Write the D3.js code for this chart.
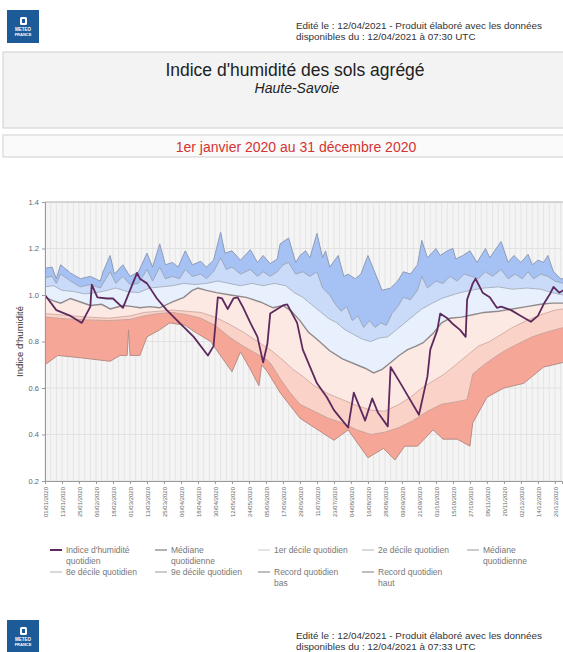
<!DOCTYPE html>
<html>
<head>
<meta charset="utf-8">
<script src="https://cdn.jsdelivr.net/npm/d3@7"></script>
<style>
  body { margin: 0; background: #fff; }
  text { font-family: "Liberation Sans", Arial, sans-serif; }
</style>
</head>
<body>
<div class="canvas"></div>
<script>
// series values as [jour de l'année, valeur]
const recordHaut = [[0,1.115],[5,1.12],[8,1.07],[11,1.13],[18,1.095],[25,1.07],[32,1.08],[39,1.06],[41,1.10],[46,1.17],[49,1.09],[55,1.13],[60,1.08],[66,1.10],[72,1.18],[76,1.12],[81,1.22],[85,1.13],[90,1.14],[94,1.12],[99,1.19],[104,1.13],[110,1.145],[114,1.12],[119,1.15],[124,1.27],[127,1.18],[132,1.19],[138,1.15],[145,1.195],[150,1.14],[154,1.17],[159,1.135],[164,1.155],[166,1.22],[172,1.245],[177,1.14],[180,1.17],[184,1.19],[187,1.16],[192,1.265],[196,1.16],[198,1.19],[201,1.12],[207,1.17],[211,1.08],[214,1.09],[219,1.07],[223,1.09],[228,1.17],[232,1.11],[238,1.02],[244,1.03],[249,1.06],[253,1.10],[258,1.09],[263,1.13],[266,1.235],[270,1.16],[276,1.20],[279,1.17],[284,1.19],[288,1.20],[290,1.155],[295,1.17],[300,1.19],[305,1.14],[311,1.20],[314,1.16],[322,1.23],[327,1.14],[331,1.17],[336,1.14],[341,1.175],[344,1.13],[348,1.15],[352,1.14],[355,1.17],[359,1.10],[364,1.07],[366,1.07]];
const neuvDecile = [[0,1.075],[5,1.08],[8,1.05],[11,1.09],[18,1.06],[25,1.035],[32,1.045],[39,1.03],[46,1.10],[50,1.05],[55,1.08],[60,1.045],[66,1.05],[72,1.11],[76,1.06],[81,1.12],[85,1.07],[90,1.08],[95,1.07],[99,1.11],[104,1.08],[110,1.09],[114,1.07],[119,1.10],[124,1.16],[128,1.11],[132,1.12],[138,1.09],[145,1.11],[150,1.08],[154,1.10],[159,1.08],[164,1.10],[168,1.13],[172,1.14],[177,1.09],[182,1.10],[187,1.08],[192,1.10],[196,1.03],[201,1.00],[205,0.96],[209,0.93],[213,0.95],[217,0.89],[221,0.91],[225,0.86],[229,0.89],[233,0.86],[237,0.88],[241,0.87],[245,0.92],[249,0.95],[253,0.99],[258,0.98],[263,1.02],[266,1.08],[270,1.03],[276,1.06],[281,1.05],[286,1.08],[291,1.06],[296,1.09],[301,1.08],[306,1.07],[311,1.10],[316,1.08],[322,1.11],[327,1.07],[332,1.09],[337,1.07],[341,1.10],[345,1.07],[350,1.09],[355,1.08],[360,1.06],[366,1.05]];
const huitDecile = [[0,1.035],[6,1.04],[12,1.02],[20,1.015],[28,1.005],[36,1.01],[44,1.02],[50,1.03],[58,1.015],[66,1.01],[74,1.03],[82,1.035],[90,1.04],[98,1.05],[106,1.045],[114,1.05],[122,1.06],[130,1.05],[138,1.04],[146,1.05],[154,1.04],[162,1.05],[170,1.04],[176,1.01],[182,0.99],[188,0.96],[194,0.93],[200,0.90],[206,0.88],[212,0.85],[218,0.83],[224,0.81],[230,0.80],[236,0.815],[242,0.82],[248,0.85],[254,0.88],[260,0.91],[266,0.94],[272,0.96],[280,0.985],[290,1.005],[300,1.02],[310,1.03],[320,1.035],[330,1.025],[340,1.03],[350,1.025],[358,1.01],[366,1.0]];
const mediane = [[0,0.99],[6,0.975],[11,0.965],[18,0.985],[25,0.97],[32,0.955],[40,0.96],[46,0.94],[55,0.955],[62,0.95],[67,0.945],[74,0.95],[81,0.945],[90,0.97],[98,0.99],[104,1.02],[108,1.03],[114,1.02],[121,1.01],[131,1.0],[142,0.99],[152,0.97],[161,0.945],[168,0.955],[174,0.93],[180,0.89],[186,0.84],[192,0.81],[201,0.76],[210,0.725],[220,0.70],[226,0.685],[232,0.665],[238,0.68],[244,0.71],[250,0.74],[256,0.765],[262,0.78],[267,0.795],[274,0.835],[280,0.88],[286,0.90],[294,0.905],[302,0.915],[310,0.925],[320,0.93],[330,0.94],[340,0.95],[350,0.96],[358,0.965],[366,0.965]];
const deuxDecile = [[0,0.92],[10,0.915],[20,0.91],[30,0.905],[45,0.90],[60,0.91],[70,0.925],[80,0.93],[90,0.935],[100,0.93],[110,0.925],[120,0.905],[130,0.875],[140,0.84],[150,0.80],[160,0.76],[168,0.72],[175,0.68],[182,0.65],[190,0.61],[200,0.575],[210,0.55],[220,0.525],[230,0.505],[240,0.50],[250,0.53],[258,0.56],[266,0.60],[274,0.63],[282,0.66],[290,0.70],[298,0.74],[306,0.78],[314,0.80],[322,0.83],[330,0.86],[340,0.89],[350,0.915],[360,0.935],[366,0.94]];
const premDecile = [[0,0.905],[10,0.90],[20,0.895],[30,0.893],[45,0.89],[60,0.895],[70,0.91],[80,0.92],[90,0.925],[100,0.915],[110,0.90],[120,0.87],[130,0.82],[140,0.78],[150,0.745],[157,0.72],[160,0.70],[166,0.64],[173,0.58],[180,0.53],[190,0.50],[200,0.47],[210,0.45],[220,0.42],[230,0.40],[240,0.41],[250,0.43],[260,0.46],[270,0.50],[280,0.53],[290,0.54],[298,0.55],[302,0.66],[310,0.70],[318,0.735],[326,0.765],[334,0.79],[344,0.82],[354,0.84],[366,0.86]];
const recordBas = [[0,0.70],[9,0.74],[25,0.73],[46,0.715],[53,0.74],[58,0.74],[59,0.85],[60,0.74],[67,0.74],[72,0.82],[81,0.85],[88,0.88],[99,0.87],[106,0.84],[117,0.80],[125,0.73],[132,0.67],[138,0.755],[145,0.68],[151,0.61],[153,0.70],[157,0.67],[166,0.58],[180,0.47],[204,0.375],[214,0.42],[228,0.30],[239,0.34],[247,0.29],[254,0.35],[263,0.35],[274,0.42],[281,0.38],[291,0.38],[300,0.35],[302,0.45],[312,0.56],[324,0.60],[338,0.62],[352,0.69],[366,0.71]];
const indice = [[0,1.00],[8,0.935],[18,0.91],[26,0.88],[32,0.95],[33,1.045],[37,0.99],[44,0.985],[48,0.985],[55,0.945],[65,1.095],[67,1.07],[72,1.05],[79,0.985],[86,0.935],[95,0.88],[105,0.82],[115,0.74],[119,0.78],[122,0.99],[125,0.985],[129,0.94],[133,0.985],[136,0.99],[140,0.945],[145,0.88],[150,0.82],[154,0.71],[157,0.79],[159,0.92],[164,0.94],[168,0.955],[171,0.96],[178,0.88],[182,0.765],[192,0.62],[199,0.56],[204,0.505],[208,0.475],[214,0.43],[218,0.58],[224,0.49],[226,0.46],[231,0.555],[235,0.495],[242,0.435],[244,0.69],[251,0.62],[264,0.485],[270,0.65],[272,0.765],[277,0.85],[279,0.92],[284,0.90],[288,0.875],[293,0.85],[297,0.82],[298,0.98],[302,1.05],[304,1.07],[309,1.01],[314,0.99],[319,0.945],[322,0.95],[329,0.935],[336,0.91],[343,0.885],[348,0.91],[352,0.96],[357,1.01],[359,1.035],[363,1.01],[366,1.02]];

const yTicks = [0.2, 0.4, 0.6, 0.8, 1.0, 1.2, 1.4];
const xTickLabels = ['01/01/2020','13/01/2020','25/01/2020','06/02/2020','18/02/2020','01/03/2020','13/03/2020','25/03/2020','06/04/2020','18/04/2020','30/04/2020','12/05/2020','24/05/2020','05/06/2020','17/06/2020','29/06/2020','11/07/2020','23/07/2020','04/08/2020','16/08/2020','28/08/2020','09/09/2020','21/09/2020','03/10/2020','15/10/2020','27/10/2020','08/11/2020','20/11/2020','02/12/2020','14/12/2020','26/12/2020'];

const legendItems = [
  { lines: ["Indice d'humidité", 'quotidien'], color: '#5e2a5e', width: 2 },
  { lines: ['Médiane', 'quotidienne'], color: '#999', width: 1.5 },
  { lines: ['1er décile quotidien'], color: '#ddd', width: 1.5 },
  { lines: ['2e décile quotidien'], color: '#ccc', width: 1.5 },
  { lines: ['Médiane', 'quotidienne'], color: '#bbb', width: 1.5 },
  { lines: ['8e décile quotidien'], color: '#ccc', width: 1.5 },
  { lines: ['9e décile quotidien'], color: '#bbb', width: 1.5 },
  { lines: ['Record quotidien', 'bas'], color: '#aaa', width: 1.5 },
  { lines: ['Record quotidien', 'haut'], color: '#aaa', width: 1.5 }
];

const W = 563, H = 652;
const plot = { left: 45, right: 562, top: 202, bottom: 481 };

const svg = d3.select('.canvas')
  .append('svg')
  .attr('width', W)
  .attr('height', H);

svg.append('rect').attr('width', W).attr('height', H).attr('fill', '#fff');

// header / footer
const logo = (yy) => {
  const g = svg.append('g').attr('transform', `translate(7, ${yy})`);
  g.append('rect').attr('width', 32).attr('height', 33).attr('fill', '#1d5a98');
  g.append('rect').attr('x', 13).attr('y', 7).attr('width', 7).attr('height', 8).attr('fill', '#fff').attr('rx', 1.5);
  g.append('rect').attr('x', 15).attr('y', 9).attr('width', 3).attr('height', 4).attr('fill', '#1d5a98');
  g.append('text').attr('x', 16).attr('y', 21).attr('text-anchor', 'middle')
    .attr('font-size', 4.5).attr('font-weight', 'bold').attr('fill', '#fff').text('METEO');
  g.append('text').attr('x', 16).attr('y', 26).attr('text-anchor', 'middle')
    .attr('font-size', 4).attr('font-weight', 'bold').attr('fill', '#fff').text('FRANCE');
};
const edition = (yy, heure) => {
  svg.append('text').attr('x', 296).attr('y', yy).attr('font-size', 9.9).attr('fill', '#333')
    .text('Edité le : 12/04/2021 - Produit élaboré avec les données');
  svg.append('text').attr('x', 296).attr('y', yy + 11).attr('font-size', 9.9).attr('fill', '#333')
    .text(`disponibles du : 12/04/2021 à ${heure} UTC`);
};
logo(10);
edition(29, '07:30');
logo(620);
edition(639, '07:33');

// title boxes
svg.append('rect').attr('x', 3).attr('y', 52).attr('width', 562).attr('height', 76)
  .attr('fill', '#f3f3f3').attr('stroke', '#d0d0d0');
svg.append('rect').attr('x', 3).attr('y', 135).attr('width', 562).attr('height', 22)
  .attr('fill', '#fafafa').attr('stroke', '#cfcfcf');
svg.append('text').attr('x', 295).attr('y', 76).attr('text-anchor', 'middle')
  .attr('font-size', 17.5).attr('fill', '#222').text("Indice d'humidité des sols agrégé");
svg.append('text').attr('x', 297).attr('y', 93).attr('text-anchor', 'middle')
  .attr('font-size', 14).attr('font-style', 'italic').attr('fill', '#222').text('Haute-Savoie');
svg.append('text').attr('x', 296).attr('y', 151.5).attr('text-anchor', 'middle')
  .attr('font-size', 14).attr('fill', '#d33434').text('1er janvier 2020 au 31 décembre 2020');

// scales
const start = new Date(2020, 0, 1);
const day = d => d3.timeDay.offset(start, d);
const x = d3.scaleTime()
  .domain([start, new Date(2020, 11, 31)])
  .range([plot.left, plot.right]);
const y = d3.scaleLinear()
  .domain([0.2, 1.4])
  .range([plot.bottom, plot.top]);

// plot background with fine vertical stripes
svg.append('rect')
  .attr('x', plot.left).attr('y', plot.top)
  .attr('width', plot.right - plot.left + 1).attr('height', plot.bottom - plot.top)
  .attr('fill', '#f4f4f4');
svg.append('g').selectAll('line')
  .data(d3.range(0, 366, 4))
  .enter().append('line')
  .attr('x1', d => x(day(d))).attr('x2', d => x(day(d)))
  .attr('y1', plot.top).attr('y2', plot.bottom)
  .attr('stroke', '#e4e4e4').attr('stroke-width', 1);
svg.append('g').selectAll('line')
  .data(yTicks)
  .enter().append('line')
  .attr('x1', plot.left).attr('x2', plot.right)
  .attr('y1', d => y(d)).attr('y2', d => y(d))
  .attr('stroke', '#e2e2e2');

svg.append('clipPath').attr('id', 'clip')
  .append('rect').attr('x', plot.left).attr('y', plot.top)
  .attr('width', plot.right - plot.left + 1).attr('height', plot.bottom - plot.top);

const graph = svg.append('g').attr('clip-path', 'url(#clip)');

const line = d3.line()
  .x(d => x(day(d[0])))
  .y(d => y(d[1]));

// fill between two series
const band = (upper, lower) => line(upper.concat(lower.slice().reverse())) + 'Z';

const bands = [
  { up: recordHaut, low: neuvDecile, fill: '#a6c1f3' },
  { up: neuvDecile, low: huitDecile, fill: '#c9dbf8' },
  { up: huitDecile, low: mediane, fill: '#e7f0fc' },
  { up: mediane, low: deuxDecile, fill: '#fde9e4' },
  { up: deuxDecile, low: premDecile, fill: '#fbd2c8' },
  { up: premDecile, low: recordBas, fill: '#f6a696' }
];

graph.selectAll('path.band')
  .data(bands)
  .enter().append('path')
  .attr('class', 'band')
  .attr('d', d => band(d.up, d.low))
  .attr('fill', d => d.fill)
  .attr('stroke', 'none');

const borders = [
  { s: recordHaut, c: '#8e9cb8', w: 1 },
  { s: neuvDecile, c: '#9aa6bc', w: 1 },
  { s: huitDecile, c: '#a9b2c2', w: 1 },
  { s: deuxDecile, c: '#d2b0a8', w: 1 },
  { s: premDecile, c: '#c9a49b', w: 1 },
  { s: recordBas, c: '#b88d86', w: 1 },
  { s: mediane, c: '#8f8a8c', w: 1.4 }
];

graph.selectAll('path.border')
  .data(borders)
  .enter().append('path')
  .attr('class', 'border')
  .attr('d', d => line(d.s))
  .attr('fill', 'none')
  .attr('stroke', d => d.c)
  .attr('stroke-width', d => d.w);

graph.append('path')
  .attr('d', line(indice))
  .attr('fill', 'none')
  .attr('stroke', '#5e2a5e')
  .attr('stroke-width', 1.8)
  .attr('stroke-linejoin', 'round');

// top border of plot
svg.append('line')
  .attr('x1', plot.left).attr('x2', plot.right + 1)
  .attr('y1', plot.top).attr('y2', plot.top)
  .attr('stroke', '#bbb');

// axes
const yAxis = d3.axisLeft(y)
  .tickValues(yTicks)
  .tickFormat(d3.format('.1f'))
  .tickSize(3);
const gy = svg.append('g')
  .attr('transform', `translate(${plot.left}, 0)`)
  .call(yAxis);
gy.select('.domain').attr('stroke', '#999');
gy.selectAll('.tick line').attr('stroke', '#999');
gy.selectAll('text').attr('font-size', 7.5).attr('fill', '#666')
  .attr('font-family', '"Liberation Sans", Arial, sans-serif');

const parse = d3.timeParse('%d/%m/%Y');
const xAxis = d3.axisBottom(x)
  .tickValues(xTickLabels.map(parse))
  .tickFormat(d3.timeFormat('%d/%m/%Y'))
  .tickSize(3);
const gx = svg.append('g')
  .attr('transform', `translate(0, ${plot.bottom})`)
  .call(xAxis);
gx.select('.domain').attr('stroke', '#999');
gx.selectAll('.tick line').attr('stroke', '#999');
gx.selectAll('text')
  .attr('font-size', 6)
  .attr('fill', '#666')
  .attr('font-family', '"Liberation Sans", Arial, sans-serif')
  .attr('transform', 'rotate(-90)')
  .attr('text-anchor', 'end')
  .attr('x', -6)
  .attr('y', 0)
  .attr('dy', '0.35em');

svg.append('text')
  .attr('transform', `translate(23, ${(plot.top + plot.bottom) / 2}) rotate(-90)`)
  .attr('text-anchor', 'middle')
  .attr('font-size', 9.5)
  .attr('fill', '#333')
  .text("Indice d'humidité");

// legend
const legCols = [50, 155, 258, 362, 467];
const legend = svg.append('g');
legendItems.forEach((d, i) => {
  const col = legCols[i < 5 ? i : i - 5];
  const row = i < 5 ? 0 : 1;
  const yy = 553 + row * 22;
  legend.append('line')
    .attr('x1', col).attr('x2', col + 12)
    .attr('y1', yy - 3).attr('y2', yy - 3)
    .attr('stroke', d.color).attr('stroke-width', d.width);
  d.lines.forEach((t, j) => {
    legend.append('text')
      .attr('x', col + 16).attr('y', yy + j * 10.5)
      .attr('font-size', 8.5).attr('fill', '#777')
      .text(t);
  });
});
</script>
</body>
</html>
